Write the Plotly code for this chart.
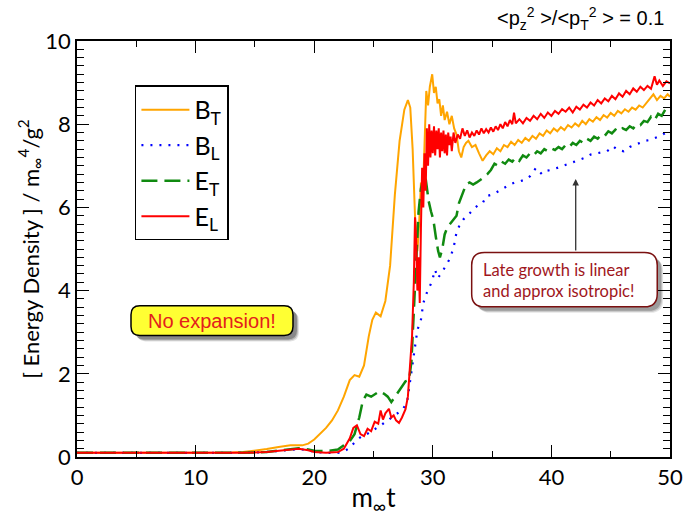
import plotly.graph_objects as go

# ---------------- data ----------------
t_BT = [0, 2, 4, 6, 8, 10, 12, 13, 14, 15, 16, 17, 18, 19, 19.5, 20, 20.5, 21, 21.5, 22, 22.5, 23, 23.4, 23.8,
        24.2, 24.6, 24.9, 25.2, 25.6, 26.0, 26.4, 26.8, 27.2, 27.6, 27.9, 28.1, 28.3, 28.5, 28.7, 28.85, 29.0,
        29.15, 29.3, 29.45, 29.6, 29.75, 29.95, 30.1, 30.25, 30.4, 30.55, 30.7, 30.85, 31.0, 31.2, 31.4, 31.6,
        31.8, 32.0, 32.2, 32.4, 32.6, 32.8, 33.0, 33.3, 33.6, 33.9, 34.2, 34.5, 34.8, 35.1, 35.4, 35.7, 36.0,
        36.3, 36.6, 36.9, 37.2, 37.5, 37.8, 38.1, 38.4, 38.7, 39.0, 39.3, 39.6, 39.9, 40.2, 40.5, 40.8, 41.1,
        41.4, 41.7, 42.0, 42.3, 42.6, 42.9, 43.2, 43.5, 43.8, 44.1, 44.4, 44.7, 45.0, 45.3, 45.6, 45.9, 46.2,
        46.5, 46.8, 47.1, 47.4, 47.7, 48.0, 48.3, 48.6, 48.9, 49.2, 49.5, 49.8, 50]
v_BT = [0.1, 0.1, 0.1, 0.1, 0.1, 0.1, 0.1, 0.11, 0.12, 0.15, 0.19, 0.24, 0.28, 0.28, 0.32, 0.42, 0.55, 0.7, 0.88,
        1.12, 1.45, 1.85, 1.97, 1.93, 2.2, 2.9, 3.3, 3.47, 3.38, 3.75, 4.6, 6.3, 7.6, 8.35, 8.58, 8.4, 7.4, 5.8,
        4.95, 5.6, 6.6, 6.2, 7.5, 8.8, 8.45, 8.9, 9.2, 8.75, 8.9, 8.5, 8.6, 8.2, 8.45, 8.1, 8.3, 8.0, 8.2, 7.9,
        7.75, 7.35, 7.2, 7.45, 7.55, 7.6, 7.45, 7.5, 7.3, 7.12, 7.25, 7.35, 7.28, 7.42, 7.35, 7.5, 7.45, 7.58,
        7.5, 7.62, 7.55, 7.67, 7.6, 7.72, 7.65, 7.78, 7.72, 7.85, 7.78, 7.9, 7.83, 7.93, 7.86, 7.98, 7.92, 8.02,
        7.95, 8.08, 8.0, 8.12, 8.06, 8.17, 8.1, 8.22, 8.16, 8.27, 8.2, 8.32, 8.26, 8.36, 8.3, 8.4, 8.35, 8.45,
        8.4, 8.5, 8.62, 8.72, 8.58, 8.68, 8.62, 8.72, 8.66]

t_BL = [0, 2, 4, 6, 8, 10, 12, 14, 16, 17, 18, 18.7, 19.5, 20, 21, 22, 22.5, 23, 23.5, 24, 24.5, 25, 25.5, 26,
        26.5, 27, 27.5, 27.85, 28.1, 28.4, 28.7, 29.0, 29.2, 29.5, 29.9, 30.2, 30.4, 30.7, 30.9, 31.2, 31.5,
        31.8, 32.0, 32.3, 32.6, 33.0, 33.4, 33.8, 34.2, 34.5, 34.9, 35.3, 35.7, 36.1, 36.5, 36.9, 37.3, 37.8,
        38.2, 38.7, 39.2, 39.6, 40.0, 40.5, 41.0, 41.5, 41.9, 42.4, 42.9, 43.3, 43.8, 44.2, 44.7, 45.2, 45.6,
        46.1, 46.6, 47.0, 47.4, 47.9, 48.3, 48.8, 49.2, 49.6, 50]
v_BL = [0.1, 0.1, 0.1, 0.1, 0.1, 0.1, 0.1, 0.1, 0.12, 0.15, 0.18, 0.19, 0.16, 0.12, 0.1, 0.1, 0.13, 0.22, 0.38,
        0.5, 0.56, 0.64, 0.74, 0.84, 0.94, 1.03, 1.15, 1.35, 1.8, 2.45, 3.05, 3.3, 3.7, 3.95, 4.2, 4.5, 4.3, 4.4,
        4.5, 4.65, 4.8, 5.1, 5.4, 5.6, 5.72, 5.82, 5.95, 6.05, 6.1, 6.27, 6.3, 6.35, 6.42, 6.48, 6.55, 6.6, 6.62,
        6.67, 6.75, 6.95, 6.8, 6.88, 6.9, 6.95, 7.0, 7.05, 7.1, 7.15, 7.2, 7.27, 7.3, 7.32, 7.35, 7.47, 7.38,
        7.35, 7.45, 7.5, 7.55, 7.6, 7.62, 7.67, 7.72, 7.79, 7.75]

t_ET = [0, 2, 4, 6, 8, 10, 12, 14, 16, 17, 18, 18.7, 19.5, 20, 21, 22, 22.5, 23.0, 23.4, 23.8, 24.1, 24.4, 24.8,
        25.1, 25.5, 25.9, 26.2, 26.5, 26.8, 27.1, 27.4, 27.7, 28.0, 28.2, 28.4, 28.6, 28.8, 29.0, 29.2, 29.35,
        29.5, 29.65, 29.85, 30.05, 30.25, 30.45, 30.6, 30.8, 31.0, 31.2, 31.45, 31.7, 32.0, 32.2, 32.5, 32.8,
        33.1, 33.4, 33.7, 34.0, 34.3, 34.6, 34.9, 35.2, 35.5, 35.8, 36.1, 36.4, 36.7, 37.0, 37.3, 37.6, 37.9,
        38.2, 38.5, 38.8, 39.1, 39.4, 39.7, 40.0, 40.3, 40.6, 40.9, 41.2, 41.5, 41.8, 42.1, 42.4, 42.7, 43.0,
        43.3, 43.6, 43.9, 44.2, 44.5, 44.8, 45.1, 45.4, 45.7, 46.0, 46.3, 46.6, 46.9, 47.2, 47.5, 47.8, 48.1,
        48.4, 48.7, 49.0, 49.3, 49.6, 50]
v_ET = [0.1, 0.1, 0.1, 0.1, 0.1, 0.1, 0.1, 0.1, 0.12, 0.15, 0.19, 0.21, 0.18, 0.15, 0.14, 0.18, 0.28, 0.38, 0.55,
        0.95, 1.35, 1.5, 1.45, 1.5, 1.58, 1.52, 1.45, 1.32, 1.45, 1.58, 1.72, 1.82, 1.85, 2.3, 3.5, 4.8, 5.9,
        6.45, 6.7, 6.8, 6.5, 6.15, 5.9, 5.7, 5.3, 4.95, 4.8, 5.0, 5.35, 5.5, 5.6, 5.7, 5.8, 6.1, 6.35, 6.55, 6.6,
        6.55, 6.6, 6.65, 6.72, 6.8, 6.9, 7.05, 7.0, 7.1, 7.05, 7.15, 7.1, 7.2, 7.12, 7.25, 7.2, 7.3, 7.25, 7.35,
        7.3, 7.4, 7.35, 7.42, 7.38, 7.45, 7.4, 7.5, 7.45, 7.55, 7.5, 7.6, 7.55, 7.65, 7.6, 7.7, 7.65, 7.75, 7.72,
        7.83, 7.78, 7.87, 7.82, 7.9, 7.86, 7.95, 7.9, 8.0, 7.98, 8.08, 8.05, 8.18, 8.1, 8.25, 8.2, 8.35, 8.3]

t_EL = [0, 2, 4, 6, 8, 10, 12, 14, 16, 17, 18, 18.7, 19.5, 20, 21, 22, 22.5, 23.0, 23.3, 23.6, 23.9, 24.2, 24.5,
        24.8, 25.1, 25.4, 25.6, 25.8, 26.0, 26.3, 26.5, 26.7, 26.9, 27.15, 27.4, 27.7, 27.9, 28.1, 28.25, 28.4,
        28.5, 28.6, 28.7, 28.8, 28.9, 29.0, 29.1, 29.2, 29.3, 29.4, 29.5, 29.6, 29.7, 29.8, 29.9, 30.0, 30.1,
        30.2, 30.3, 30.4, 30.5, 30.6, 30.7, 30.8, 30.9, 31.0, 31.1, 31.2, 31.3, 31.4, 31.5, 31.6, 31.75, 31.9,
        32.1, 32.3, 32.5, 32.7, 32.9, 33.1, 33.3, 33.5, 33.7, 33.9, 34.1, 34.3, 34.5, 34.7, 34.9, 35.1, 35.3,
        35.5, 35.7, 35.9, 36.1, 36.3, 36.5, 36.7, 36.85, 37.0, 37.3, 37.6, 37.9, 38.2, 38.5, 38.8, 39.1, 39.4,
        39.7, 40.0, 40.3, 40.6, 40.9, 41.2, 41.5, 41.8, 42.1, 42.4, 42.7, 43.0, 43.3, 43.6, 43.9, 44.2, 44.5,
        44.8, 45.1, 45.4, 45.7, 46.0, 46.3, 46.6, 46.9, 47.2, 47.5, 47.8, 48.1, 48.4, 48.7, 48.9, 49.1, 49.4,
        49.7, 50]
v_EL = [0.1, 0.1, 0.1, 0.1, 0.1, 0.1, 0.1, 0.1, 0.12, 0.15, 0.19, 0.2, 0.16, 0.12, 0.1, 0.12, 0.2, 0.45, 0.7,
        0.76, 0.55, 0.5, 0.68, 0.62, 0.85, 0.8, 1.12, 0.9, 1.05, 1.16, 0.95, 1.0, 0.88, 0.82, 0.95, 1.15, 1.45,
        2.2, 2.9, 4.2, 5.76, 5.2, 4.0, 4.8, 3.7, 5.5, 6.95, 6.0, 7.3, 6.4, 7.9, 7.0, 8.0, 7.2, 7.85, 7.3, 7.95,
        7.25, 7.85, 7.4, 7.9, 7.2, 7.8, 7.35, 7.85, 7.3, 7.75, 7.25, 7.8, 7.5, 7.7, 7.35, 7.8, 7.55, 7.75, 7.65,
        7.9, 7.72, 7.85, 7.68, 7.8, 7.72, 7.85, 7.75, 7.9, 7.78, 7.88, 7.8, 7.92, 7.82, 7.95, 7.86, 8.0, 7.9,
        8.05, 7.95, 8.1, 8.0, 8.28, 8.02, 8.12, 8.02, 8.15, 8.08, 8.2, 8.12, 8.25, 8.15, 8.28, 8.2, 8.32, 8.25,
        8.36, 8.3, 8.4, 8.28, 8.42, 8.35, 8.47, 8.4, 8.52, 8.45, 8.58, 8.5, 8.62, 8.55, 8.68, 8.6, 8.74, 8.66,
        8.8, 8.72, 8.86, 8.78, 8.9, 8.82, 8.92, 8.85, 9.15, 8.95, 9.05, 8.92, 9.03, 8.98]

x_ticks = [0, 10, 20, 30, 40, 50]
y_ticks = [0, 2, 4, 6, 8, 10]

# ---------------- figure ----------------
W, H = 695, 520
ML, MR, MT, MB = 77, 14, 41, 58
PW, PH = W - ML - MR, H - MT - MB


def X(px):
    return (px - ML) / PW


def Y(py):
    return (H - MB - py) / PH


def rrect(x0, y0, x1, y1, r):
    return (f"M {X(x0 + r)} {Y(y0)} L {X(x1 - r)} {Y(y0)} Q {X(x1)} {Y(y0)} {X(x1)} {Y(y0 + r)} "
            f"L {X(x1)} {Y(y1 - r)} Q {X(x1)} {Y(y1)} {X(x1 - r)} {Y(y1)} "
            f"L {X(x0 + r)} {Y(y1)} Q {X(x0)} {Y(y1)} {X(x0)} {Y(y1 - r)} "
            f"L {X(x0)} {Y(y0 + r)} Q {X(x0)} {Y(y0)} {X(x0 + r)} {Y(y0)} Z")


fig = go.Figure()
fig.add_trace(go.Scatter(x=t_BT, y=v_BT, mode="lines", name="B<sub>T</sub>",
                         line=dict(color="#ffa500", width=2)))
fig.add_trace(go.Scatter(x=t_BL, y=v_BL, mode="lines", name="B<sub>L</sub>",
                         line=dict(color="#0000ff", width=2.2, dash="2px,7px")))
fig.add_trace(go.Scatter(x=t_ET, y=v_ET, mode="lines", name="E<sub>T</sub>",
                         line=dict(color="#108a10", width=2.5, dash="16px,7px")))
fig.add_trace(go.Scatter(x=t_EL, y=v_EL, mode="lines", name="E<sub>L</sub>",
                         line=dict(color="#ff0000", width=2)))

axis_common = dict(showline=True, linecolor="black", linewidth=1.5, mirror="allticks",
                   ticks="inside", ticklen=12, tickwidth=1.2, tickcolor="black",
                   showgrid=False, zeroline=False,
                   tickfont=dict(family="Lato", size=22, color="black"))

fig.update_xaxes(range=[0, 50], tickvals=x_ticks, ticktext=[str(v) for v in x_ticks],
                 minor=dict(ticks="inside", dtick=5, ticklen=6, tickwidth=1.2, tickcolor="black"),
                 title=dict(text="m<sub>∞</sub>t", font=dict(family="Lato", size=26, color="black"),
                            standoff=0),
                 **axis_common)
fig.update_yaxes(range=[0, 10], tickvals=y_ticks, ticktext=[str(v) for v in y_ticks],
                 minor=dict(ticks="inside", dtick=0.2, ticklen=7, tickwidth=1.2, tickcolor="black"),
                 title=dict(text="[ Energy Density ] / m<sub>∞</sub><sup>4</sup>/g<sup>2</sup>",
                            font=dict(family="Lato", size=22, color="black"), standoff=0),
                 **axis_common)

shapes = []
# "No expansion!" box with shadow
for off, op in [(6, 0.12), (5, 0.18), (4, 0.25)]:
    shapes.append(dict(type="path", xref="paper", yref="paper", layer="above",
                       path=rrect(132 + off, 309 + off, 297 + off, 339 + off, 9),
                       fillcolor=f"rgba(0,0,0,{op})", line=dict(width=0)))
shapes.append(dict(type="path", xref="paper", yref="paper", layer="above",
                   path=rrect(132, 309, 297, 339, 9),
                   fillcolor="#ffff33", line=dict(color="black", width=1.5)))
# "Late growth" box with shadow
for off, op in [(6, 0.10), (5, 0.15), (4, 0.2)]:
    shapes.append(dict(type="path", xref="paper", yref="paper", layer="above",
                       path=rrect(479 + off, 255 + off, 668 + off, 310 + off, 13),
                       fillcolor=f"rgba(0,0,0,{op})", line=dict(width=0)))
shapes.append(dict(type="path", xref="paper", yref="paper", layer="above",
                   path=rrect(479, 255, 668, 310, 13),
                   fillcolor="white", line=dict(color="#7a1010", width=1.5)))

annotations = [
    dict(xref="paper", yref="paper", x=X(214), y=Y(324), text="No expansion!", showarrow=False,
         font=dict(family="Liberation Sans", size=20, color="#e3201c"), xanchor="center", yanchor="middle"),
    dict(xref="paper", yref="paper", x=X(488), y=Y(283),
         text="Late growth is linear<br>and approx isotropic!", showarrow=False, align="left",
         font=dict(family="Lato", size=16.5, color="#a0161c"), xanchor="left", yanchor="middle"),
    dict(xref="x", yref="y", x=42.05, y=6.68, text="", showarrow=True, arrowhead=2, arrowsize=1,
         arrowwidth=1.3, arrowcolor="#333333", ax=0, ay=73, standoff=0),
    dict(xref="paper", yref="paper", x=X(677), y=Y(18),
         text="&lt;p<sub>z</sub><sup>2</sup> &gt;/&lt;p<sub>T</sub><sup>2</sup> &gt; = 0.1",
         showarrow=False, xanchor="right", yanchor="middle",
         font=dict(family="Liberation Sans", size=20, color="black")),
]

fig.update_layout(
    width=W, height=H,
    margin=dict(l=ML, r=MR, t=MT, b=MB, pad=0),
    paper_bgcolor="white", plot_bgcolor="white",
    showlegend=True,
    legend=dict(x=X(136), y=Y(86), xanchor="left", yanchor="top",
                bgcolor="white", bordercolor="black", borderwidth=1.5,
                font=dict(family="Lato", size=25, color="black"),
                itemwidth=48, tracegroupgap=0),
    shapes=shapes,
    annotations=annotations,
)

fig.write_html("out.html")
